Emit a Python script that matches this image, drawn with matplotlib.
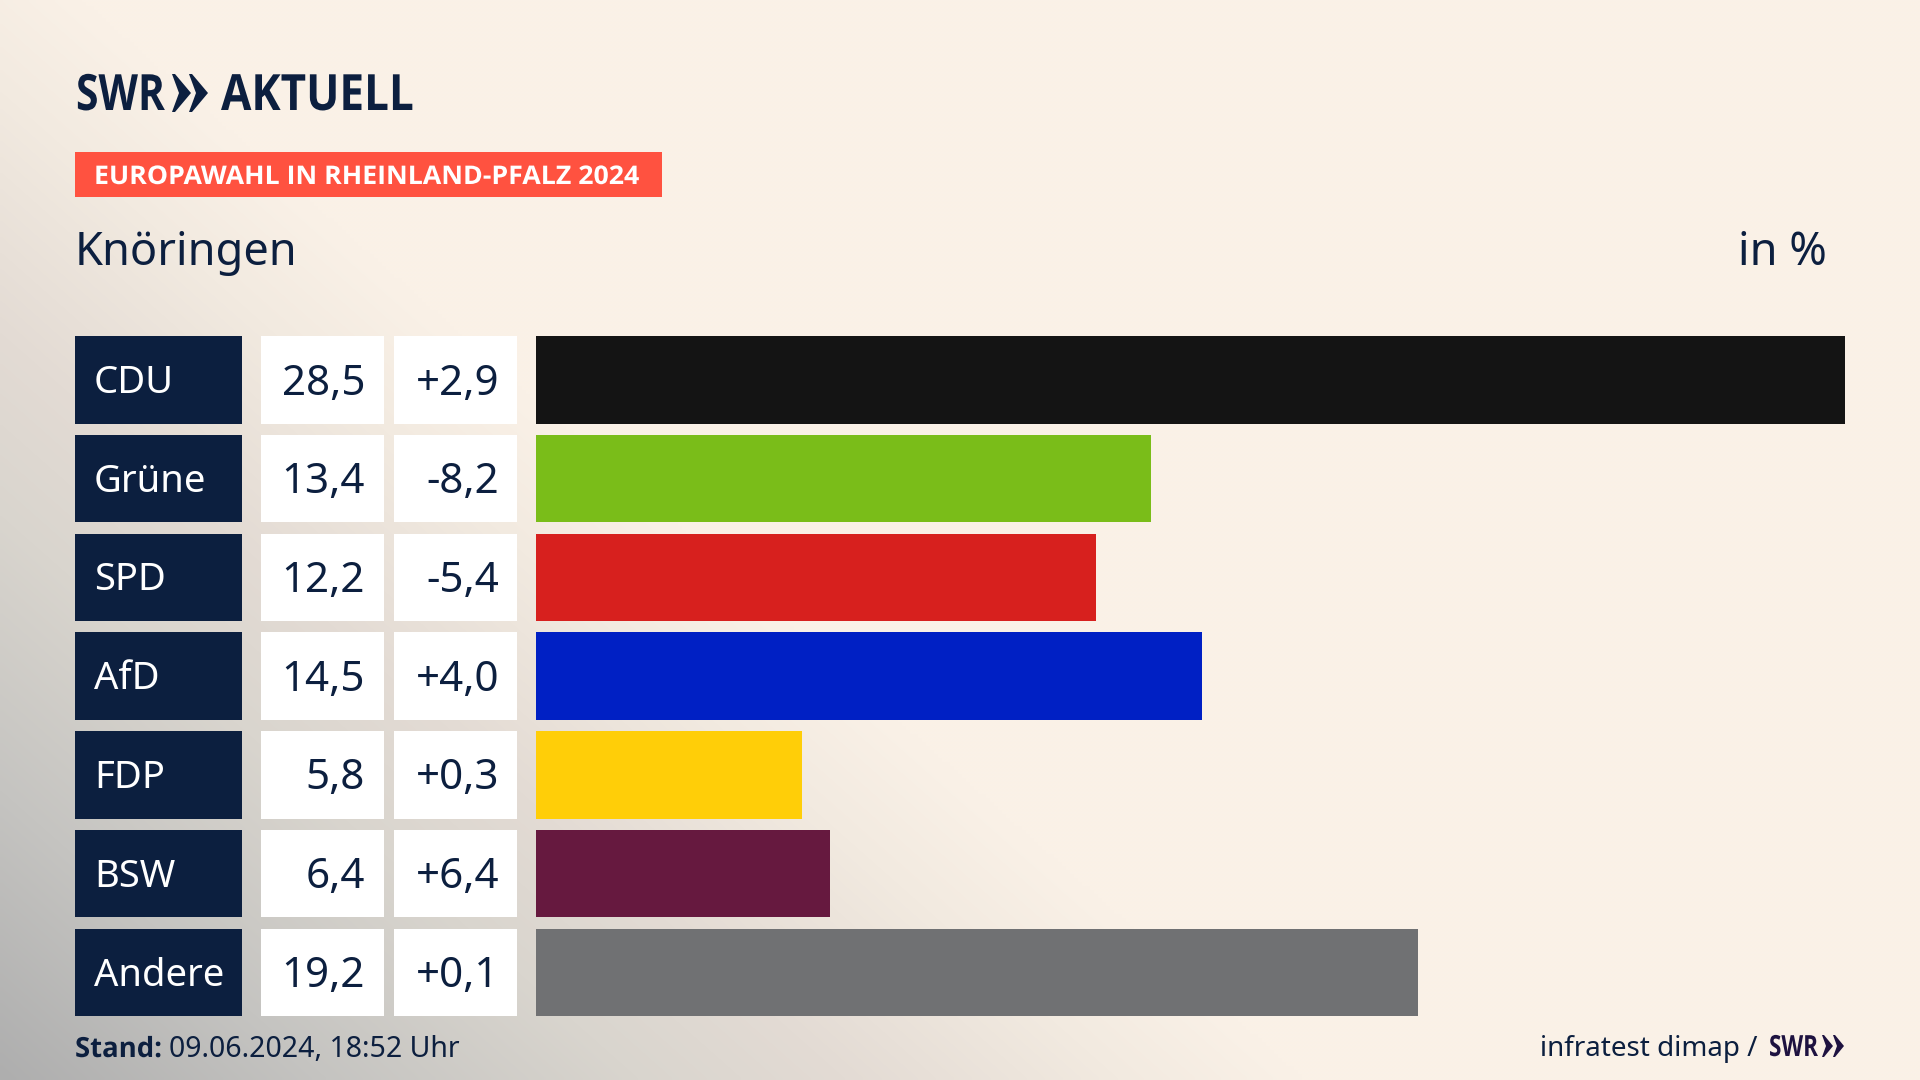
import numpy as np
import matplotlib
matplotlib.use("Agg")
import matplotlib.pyplot as plt
from matplotlib.patches import Rectangle, Polygon
from matplotlib.patheffects import AbstractPathEffect
from matplotlib.transforms import Affine2D

# data
parties = ["CDU", "Grüne", "SPD", "AfD", "FDP", "BSW", "Andere"]
shares = [28.5, 13.4, 12.2, 14.5, 5.8, 6.4, 19.2]
share_labels = ["28,5", "13,4", "12,2", "14,5", "5,8", "6,4", "19,2"]
change_labels = ["+2,9", "-8,2", "-5,4", "+4,0", "+0,3", "+6,4", "+0,1"]
colors = ["#141414", "#7ABD19", "#D7201E", "#0020C4", "#FFCE08", "#66193F", "#707173"]

NAVY = "#0C1F3F"
FONT = ["Noto Sans", "DejaVu Sans"]
BOLD = ["Open Sans", "DejaVu Sans"]

W, H = 1920, 1080
fig = plt.figure(figsize=(W / 100, H / 100), dpi=100)

ax = fig.add_axes([0, 0, 1, 1])
ax.set_xlim(0, W)
ax.set_ylim(H, 0)
ax.axis("off")


class Squeeze(AbstractPathEffect):
    """Draw a text narrower about a fixed display x."""
    def __init__(self, sx, x0):
        super().__init__()
        self.sx, self.x0 = sx, x0

    def draw_path(self, renderer, gc, tpath, affine, rgbFace=None):
        a = affine + Affine2D().translate(-self.x0, 0).scale(self.sx, 1).translate(self.x0, 0)
        renderer.draw_path(gc, tpath, a, rgbFace)


def fitted(x0, x1, y, s, **kw):
    t = ax.text(x0, y, s, va="baseline", **kw)
    width = t.get_window_extent(fig.canvas.get_renderer()).width
    t.set_path_effects([Squeeze((x1 - x0) / width, ax.transData.transform((x0, y))[0])])
    return t


# background: diagonal grey-to-cream wash from the lower-left corner
yy, xx = np.mgrid[0:H:270j, 0:W:480j]
t = xx / 1300 + (H - yy) / 1150
stops = [0, 0.25, 0.49, 0.65, 0.86, 1.0]
rs = [174, 197, 217, 227, 242, 250]
gs = [174, 196, 213, 219, 234, 241]
bs = [174, 193, 206, 212, 224, 231]
img = np.dstack([np.interp(t, stops, c) for c in (rs, gs, bs)]) / 255
ax.imshow(img, extent=[0, W, H, 0], aspect="auto", interpolation="bilinear", zorder=0)
ax.set_xlim(0, W)
ax.set_ylim(H, 0)

# logo
fitted(76, 165, 110, "SWR", family=BOLD, weight="bold", fontsize=36, color=NAVY)
fitted(221, 414, 110, "AKTUELL", family=BOLD, weight="bold", fontsize=36, color=NAVY)
for x0 in (172, 189):
    ax.add_patch(Polygon([(x0, 74), (x0 + 3, 74), (x0 + 19, 93), (x0 + 3, 112), (x0, 112), (x0 + 7, 93)],
                         closed=True, fc=NAVY, ec="none", zorder=2))

# banner
ax.add_patch(Rectangle((75, 152), 587, 45, fc="#FF5240", ec="none", zorder=1))
fitted(94, 642, 184, "EUROPAWAHL IN RHEINLAND-PFALZ 2024", family=BOLD, weight="bold",
       fontsize=18.5, color="white", zorder=3)

# heading
ax.text(75, 265, "Knöringen", family=FONT, fontsize=32.5, color=NAVY, va="baseline")
ax.text(1827, 265, "in %", family=FONT, fontsize=32.5, color=NAVY, va="baseline", ha="right")

# table cells
top, pitch, rh = 336.0, 98.75, 87.5
for i, (p, s, c) in enumerate(zip(parties, share_labels, change_labels)):
    y = top + i * pitch
    ax.add_patch(Rectangle((75, y), 167, rh, fc=NAVY, ec="none", zorder=1))
    ax.add_patch(Rectangle((261, y), 123, rh, fc="white", ec="none", zorder=1))
    ax.add_patch(Rectangle((394, y), 123, rh, fc="white", ec="none", zorder=1))
    ax.text(94, y + 57, p, family=FONT, fontsize=27.5, color="white", va="baseline", zorder=3)
    ax.text(365, y + 58.5, s, family=FONT, fontsize=30.3, color=NAVY, va="baseline", ha="right", zorder=3)
    ax.text(499, y + 58.5, c, family=FONT, fontsize=30.3, color=NAVY, va="baseline", ha="right", zorder=3)

# bars on their own axes
bx = fig.add_axes([536 / W, (H - (top + 6 * pitch + rh)) / H, (1845 - 536) / W, (6 * pitch + rh) / H])
bx.patch.set_alpha(0)
pos = np.arange(len(parties))
hh = rh / pitch
bx.barh(pos, shares, height=hh, color=colors)
bx.set_xlim(0, max(shares))
bx.set_ylim(len(parties) - 1 + hh / 2, -hh / 2)
bx.axis("off")

# footer
fitted(75, 162, 1057, "Stand:", family=BOLD, weight="bold", fontsize=20, color=NAVY)
ax.text(169, 1057, "09.06.2024, 18:52 Uhr", family=FONT, fontsize=20.5, color=NAVY, va="baseline")
ax.text(1757, 1056, "infratest dimap /", family=FONT, fontsize=20, color=NAVY, va="baseline", ha="right")
fitted(1769, 1818, 1056, "SWR", family=BOLD, weight="bold", fontsize=21, color="#1E1240")
for x0 in (1822, 1833):
    ax.add_patch(Polygon([(x0, 1035), (x0 + 2, 1035), (x0 + 11, 1046), (x0 + 2, 1057), (x0, 1057), (x0 + 4, 1046)],
                         closed=True, fc="#1E1240", ec="none", zorder=2))

fig.savefig("out.png", dpi=100)
